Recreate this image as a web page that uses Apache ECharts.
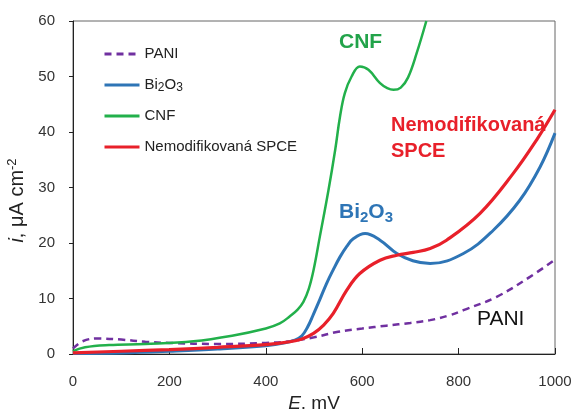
<!DOCTYPE html>
<html>
<head>
    <meta charset="utf-8">
    <style>
        html, body {
            height: 100%;
        }

        * {
            margin: 0;
            padding: 0;
        }

        #container {
            width: 575px;
            height: 409px;
            background: #fff;
        }
    </style>
</head>
<body>
<div id="container"></div>
<script type="text/javascript" src="https://cdn.jsdelivr.net/npm/echarts/dist/echarts.min.js"></script>
<script type="text/javascript">
    // data (E in mV, i in uA cm-2)
    let paniE = [0, 20, 50, 100, 150, 200, 300, 400, 450, 500, 550, 600, 650, 700, 741, 782, 810, 879, 948, 1000];
    let paniI = [1.0, 2.3, 2.8, 2.6, 2.2, 2.0, 1.8, 2.0, 2.3, 3.0, 4.0, 4.6, 5.1, 5.6, 6.1, 7.0, 7.9, 10.3, 13.9, 17.0];

    let biE = [0, 100, 200, 300, 400, 440, 460, 475, 487, 499, 512, 526, 540, 554, 568, 582, 606, 637, 672, 705, 741, 810, 872, 927, 969, 1000];
    let biI = [0.1, 0.2, 0.5, 0.9, 1.5, 2.0, 2.5, 3.3, 4.9, 7.2, 9.8, 12.7, 15.2, 17.5, 19.4, 20.8, 21.7, 20.5, 18.1, 16.8, 16.3, 18.1, 22.3, 27.7, 33.7, 39.8];

    let cnfE = [0, 25, 75, 150, 250, 330, 400, 429, 450, 466, 478, 489, 499, 512, 530, 544, 554, 564, 578, 595, 613, 637, 652, 665, 680, 695, 713, 733];
    let cnfI = [0.5, 1.2, 1.6, 1.8, 2.3, 3.3, 4.6, 5.5, 6.8, 8.0, 9.4, 11.7, 15.1, 21.1, 29.5, 36.8, 42.8, 47, 50, 51.8, 51.2, 48.8, 47.9, 47.6, 48.0, 49.8, 54.2, 60];

    let spceE = [0, 100, 200, 300, 400, 450, 475, 499, 520, 540, 568, 595, 637, 672, 706, 741, 775, 844, 913, 962, 1000];
    let spceI = [0.2, 0.5, 0.8, 1.2, 1.7, 2.2, 2.7, 3.7, 5.2, 7.3, 11.5, 14.5, 16.9, 17.8, 18.3, 19.0, 20.5, 25.3, 32.5, 38.6, 44];

    let seriesNames = ['PANI', 'Bi2O3', 'CNF', 'Nemodifikovaná SPCE'];
    let colors = ['#7030a0', '#2e75b6', '#22b04b', '#e8202a'];

    function pairs(xs, ys) {
        return xs.map(function (x, k) { return [x, ys[k]]; });
    }

    let dom = document.getElementById("container");
    let myChart = echarts.init(dom, null, {renderer: 'canvas'});

    let font = 'Liberation Sans';

    let option = {
        animation: false,
        backgroundColor: '#fff',
        textStyle: {fontFamily: font},
        grid: {
            left: 73, top: 21, right: 20, bottom: 55,
            outerBoundsMode: 'none',
            show: true, borderColor: '#666', borderWidth: 1
        },
        legend: {
            orient: 'vertical',
            left: 98, top: 40,
            itemWidth: 35, itemHeight: 14, itemGap: 13,
            itemStyle: {opacity: 0},
            lineStyle: {width: 3},
            data: seriesNames,
            textStyle: {
                fontSize: 15, color: '#222', lineHeight: 18,
                rich: {
                    n: {fontSize: 15, color: '#222', lineHeight: 18},
                    s: {fontSize: 12, color: '#222', padding: [6, 0, 0, 0], lineHeight: 18}
                }
            },
            formatter: function (name) {
                if (name === 'Bi2O3') return '{n|Bi}{s|2}{n|O}{s|3}';
                return name;
            }
        },
        xAxis: {
            type: 'value',
            min: 0, max: 1000, interval: 200,
            name: '{it|E}{r|, mV}',
            nameLocation: 'middle',
            nameGap: 27,
            nameTextStyle: {
                fontSize: 19, color: '#222',
                rich: {
                    it: {fontSize: 19, fontStyle: 'italic', color: '#222'},
                    r: {fontSize: 19, color: '#222'}
                }
            },
            axisLine: {show: true, lineStyle: {color: '#222', width: 1}},
            axisTick: {show: true, inside: true, length: 6, lineStyle: {color: '#222'}},
            axisLabel: {fontSize: 15, color: '#333', margin: 20, formatter: function (v) { return String(v); }},
            splitLine: {show: false}
        },
        yAxis: {
            type: 'value',
            min: 0, max: 60, interval: 10,
            name: '{it|i}{r|, μA cm}{sup|-2}',
            nameLocation: 'middle',
            nameGap: 45,
            nameRotate: 90,
            nameTextStyle: {
                fontSize: 20, color: '#222', padding: [0, 26, 0, 0],
                rich: {
                    it: {fontSize: 20, fontStyle: 'italic', color: '#222'},
                    r: {fontSize: 20, color: '#222'},
                    sup: {fontSize: 13, color: '#222', padding: [0, 0, 9, 0]}
                }
            },
            axisLine: {show: true, lineStyle: {color: '#222', width: 1}},
            axisTick: {show: true, inside: false, length: 4, lineStyle: {color: '#222'}},
            axisLabel: {fontSize: 15, color: '#333', margin: 18},
            splitLine: {show: false}
        },
        series: [
            {
                name: seriesNames[0], type: 'line', data: pairs(paniE, paniI),
                smooth: 0.4, showSymbol: false, symbol: 'none', color: colors[0],
                lineStyle: {width: 2.5, type: [7, 5], color: colors[0]}
            },
            {
                name: seriesNames[1], type: 'line', data: pairs(biE, biI),
                smooth: 0.4, showSymbol: false, symbol: 'none', color: colors[1],
                lineStyle: {width: 3, color: colors[1]}
            },
            {
                name: seriesNames[2], type: 'line', data: pairs(cnfE, cnfI),
                smooth: 0.4, showSymbol: false, symbol: 'none', color: colors[2],
                lineStyle: {width: 2.5, color: colors[2]}
            },
            {
                name: seriesNames[3], type: 'line', data: pairs(spceE, spceI),
                smooth: 0.4, showSymbol: false, symbol: 'none', color: colors[3],
                lineStyle: {width: 3.2, color: colors[3]}
            }
        ],
        graphic: [
            {type: 'text', left: 339, top: 32, style: {text: 'CNF', fontSize: 21, fontWeight: 'bold', fill: '#22a34a', fontFamily: font}},
            {
                type: 'text', left: 339, top: 202,
                style: {
                    text: '{b|Bi}{s|2}{b|O}{s|3}',
                    rich: {
                        b: {fontSize: 21, fontWeight: 'bold', fill: '#2e75b6', fontFamily: font},
                        s: {fontSize: 15, fontWeight: 'bold', fill: '#2e75b6', fontFamily: font, padding: [10, 0, 0, 0]}
                    }
                }
            },
            {type: 'text', left: 391, top: 112, style: {text: 'Nemodifikovaná\nSPCE', fontSize: 20, lineHeight: 26, fontWeight: 'bold', fill: '#e8202a', fontFamily: font}},
            {type: 'text', left: 477, top: 309, style: {text: 'PANI', fontSize: 21, fill: '#111', fontFamily: font}}
        ]
    };

    myChart.setOption(option, true);
</script>
</body>
</html>
